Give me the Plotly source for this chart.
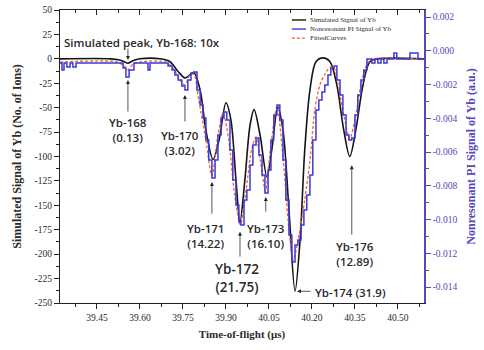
import plotly.graph_objects as go

# ---------------- data ----------------
# Simulated signal of Yb (left axis, No. of ions)
sim_t = [39.321, 39.500, 39.525, 39.545, 39.558, 39.575, 39.600, 39.670, 39.705, 39.733,
         39.757, 39.774, 39.788, 39.810, 39.830, 39.855, 39.876, 39.900, 39.917, 39.935,
         39.949, 39.966, 39.984, 39.998, 40.019, 40.043, 40.060, 40.081, 40.099, 40.120,
         40.141, 40.158, 40.175, 40.193, 40.214, 40.238, 40.263, 40.287, 40.311, 40.332,
         40.353, 40.378, 40.402, 40.430, 40.591]
sim_v = [0, 0, -1, -3, -4.5, -2, 0, 0, -3, -13,
         -19.5, -16.5, -14, -32, -73, -103, -83, -45, -62, -124,
         -167, -124, -68, -52, -78, -121, -93, -49, -73, -155,
         -238, -188, -93, -32, -3, 1, -3, -27, -73, -100,
         -73, -27, -3, 0, 0]

# Nonresonant PI signal of Yb (right axis, a.u.)
pi_t = [39.321, 39.328, 39.335, 39.345, 39.356, 39.366, 39.377, 39.541, 39.551, 39.562,
        39.579, 39.628, 39.635, 39.698, 39.712, 39.722, 39.733, 39.746, 39.757, 39.767,
        39.778, 39.788, 39.799, 39.810, 39.820, 39.830, 39.840, 39.851, 39.862, 39.872,
        39.883, 39.893, 39.903, 39.914, 39.924, 39.935, 39.945, 39.952, 39.963, 39.973,
        39.984, 39.994, 40.005, 40.015, 40.026, 40.036, 40.047, 40.057, 40.067, 40.078,
        40.088, 40.099, 40.109, 40.120, 40.130, 40.141, 40.151, 40.162, 40.172, 40.182,
        40.193, 40.203, 40.214, 40.224, 40.235, 40.245, 40.256, 40.266, 40.277, 40.287,
        40.298, 40.308, 40.319, 40.329, 40.339, 40.350, 40.360, 40.371, 40.381, 40.392,
        40.409, 40.420, 40.430, 40.441, 40.451, 40.462, 40.486, 40.496, 40.542, 40.570,
        40.591]
pi_v = [-0.00072, -0.00113, -0.00072, -0.00096, -0.00072, -0.00096, -0.00072, -0.00102, -0.00155, -0.00113,
        -0.00072, -0.00113, -0.00072, -0.00090, -0.00113, -0.00143, -0.00173, -0.00208, -0.00232, -0.00173,
        -0.00131, -0.00125, -0.00232, -0.00321, -0.00398, -0.00528, -0.00647, -0.00753, -0.00647, -0.00499,
        -0.00398, -0.00362, -0.00410, -0.00588, -0.00765, -0.00913, -0.01014, -0.01032, -0.00884, -0.00825,
        -0.00677, -0.00558, -0.00516, -0.00617, -0.00736, -0.00842, -0.00706, -0.00528, -0.00380, -0.00321,
        -0.00410, -0.00647, -0.00884, -0.01091, -0.01251, -0.01150, -0.01121, -0.01032, -0.00943, -0.00854,
        -0.00736, -0.00528, -0.00351, -0.00291, -0.00244, -0.00202, -0.00143, -0.00102, -0.00090, -0.00173,
        -0.00262, -0.00380, -0.00499, -0.00528, -0.00516, -0.00380, -0.00262, -0.00173, -0.00113, -0.00048,
        -0.00072, -0.00048, -0.00072, -0.00048, -0.00072, -0.00048, -0.00013, -0.00048, -0.00013, -0.00048,
        -0.00048]

# Fitted curves (right axis, a.u.)
fit_t = [39.321, 39.520, 39.545, 39.558, 39.575, 39.600, 39.690, 39.715, 39.740, 39.757,
         39.775, 39.788, 39.805, 39.830, 39.851, 39.872, 39.890, 39.910, 39.930, 39.950,
         39.970, 39.990, 40.005, 40.020, 40.038, 40.055, 40.078, 40.100, 40.120, 40.135,
         40.155, 40.175, 40.193, 40.210, 40.228, 40.245, 40.263, 40.277, 40.290, 40.310,
         40.332, 40.352, 40.372, 40.392, 40.410, 40.591]
fit_v = [-0.00066, -0.00066, -0.00090, -0.00113, -0.00080, -0.00066, -0.00066, -0.00102, -0.00173, -0.00202,
         -0.00140, -0.00140, -0.00290, -0.00530, -0.00740, -0.00500, -0.00370, -0.00530, -0.00850, -0.01030,
         -0.00830, -0.00580, -0.00510, -0.00650, -0.00830, -0.00580, -0.00330, -0.00650, -0.01060, -0.01240,
         -0.01090, -0.00880, -0.00650, -0.00350, -0.00200, -0.00140, -0.00096, -0.00100, -0.00190, -0.00370,
         -0.00520, -0.00390, -0.00190, -0.00080, -0.00050, -0.00050]

series_names = ["Simulated Signal of Yb", "Nonresonant PI Signal of Yb", "FittedCurves"]

x_tickvals = [39.45, 39.60, 39.75, 39.90, 40.05, 40.20, 40.35, 40.50]
x_ticktext = ["39.45", "39.60", "39.75", "39.90", "40.05", "40.20", "40.35", "40.50"]
yl_tickvals = [50, 25, 0, -25, -50, -75, -100, -125, -150, -175, -200, -225, -250]
yl_ticktext = ["50", "25", "0", "-25", "-50", "-75", "-100", "-125", "-150", "-175", "-200", "-225", "-250"]
yr_tickvals = [0.002, 0.000, -0.002, -0.004, -0.006, -0.008, -0.010, -0.012, -0.014]
yr_ticktext = ["0.002", "0.000", "-0.002", "-0.004", "-0.006", "-0.008", "-0.010", "-0.012", "-0.014"]

# peak labels
label_text = ["Yb-168<br>(0.13)", "Yb-170<br>(3.02)", "Yb-171<br>(14.22)", "Yb-172<br>(21.75)",
              "Yb-173<br>(16.10)", "Yb-176<br>(12.89)"]
label_x = [39.558, 39.740, 39.827, 39.938, 40.039, 40.350]
label_y = [-73, -86, -181, -224, -181, -200]
# arrows: head (x, y), tail y
arrow_hx = [39.558, 39.757, 39.851, 39.949, 40.039, 40.339]
arrow_hy = [-21.7, -37, -126, -177, -141.5, -109]
arrow_ty = [-55.5, -65.7, -160, -204, -158, -181.5]

PURPLE = "#5548b8"
BLUE = "#3a3ad8"
RED = "#f0603c"
DARK = "#2a2a2a"
SERIF = "Liberation Serif"
SANS = "Open Sans"

fig = go.Figure()
fig.add_trace(go.Scatter(x=fit_t, y=fit_v, yaxis="y2", mode="lines", name=series_names[2],
                         line=dict(color=RED, width=1.3, dash="3px,2px", shape="spline", smoothing=0.8),
                         showlegend=False))
fig.add_trace(go.Scatter(x=pi_t, y=pi_v, yaxis="y2", mode="lines", name=series_names[1],
                         line=dict(color=BLUE, width=1.5, shape="hv"), showlegend=False))
fig.add_trace(go.Scatter(x=sim_t, y=sim_v, mode="lines", name=series_names[0],
                         line=dict(color="#151515", width=1.6, shape="spline", smoothing=0.9),
                         showlegend=False))
# transparent copy on the top axis so its inward ticks are drawn
fig.add_trace(go.Scatter(x=sim_t, y=sim_v, xaxis="x2", mode="lines",
                         line=dict(color="rgba(0,0,0,0)", width=0), showlegend=False, hoverinfo="skip"))

tickfont = dict(family=SERIF, size=9.5, color=DARK)

fig.update_layout(
    width=484, height=350,
    margin=dict(l=60, r=60, t=10, b=47, autoexpand=False),
    paper_bgcolor="white", plot_bgcolor="white",
    showlegend=False,
    xaxis=dict(range=[39.321, 40.591], tickmode="array", tickvals=x_tickvals, ticktext=x_ticktext,
               ticks="outside", ticklen=5, tickwidth=1, tickcolor="#222", automargin=False,
               minor=dict(dtick=0.075, tick0=39.45, ticks="outside", ticklen=3, tickcolor="#222"),
               showline=True, linecolor="#222", linewidth=1.3, mirror=True,
               showgrid=False, zeroline=False, tickfont=tickfont,
               title=dict(text="<b>Time-of-flight (μs)</b>", font=dict(family=SERIF, size=11, color=DARK),
                          standoff=8)),
    xaxis2=dict(range=[39.321, 40.591], overlaying="x", side="top", matches="x", automargin=False,
                tickmode="array", tickvals=x_tickvals, showticklabels=False,
                ticks="inside", ticklen=5, tickcolor="#222",
                minor=dict(dtick=0.075, tick0=39.45, ticks="inside", ticklen=3, tickcolor="#222"),
                showgrid=False, zeroline=False, showline=False),
    yaxis=dict(range=[-250, 50], tickmode="array", tickvals=yl_tickvals, ticktext=yl_ticktext,
               ticks="outside", ticklen=5, tickcolor="#222", automargin=False,
               minor=dict(dtick=12.5, tick0=0, ticks="outside", ticklen=3, tickcolor="#222"),
               showline=True, linecolor="#222", linewidth=1.3,
               showgrid=False, zeroline=False, tickfont=tickfont,
               title=dict(text="<b>Simulated Signal of Yb (No. of Ions)</b>",
                          font=dict(family=SERIF, size=12, color=DARK), standoff=10)),
    yaxis2=dict(range=[-0.01494, 0.00242], overlaying="y", side="right", automargin=False,
                tickmode="array", tickvals=yr_tickvals, ticktext=yr_ticktext,
                ticks="outside", ticklen=5, tickcolor=PURPLE,
                minor=dict(dtick=0.001, tick0=0, ticks="outside", ticklen=3, tickcolor=PURPLE),
                showline=True, linecolor=PURPLE, linewidth=1.5,
                showgrid=False, zeroline=False,
                tickfont=dict(family=SERIF, size=9.5, color=PURPLE),
                title=dict(text="<b>Nonresonant PI Signal of Yb (a.u.)</b>",
                           font=dict(family=SERIF, size=12, color=PURPLE), standoff=10)),
)

annfont = dict(family=SANS, size=11.5, color=DARK, weight=600)
anns = []
anns.append(dict(x=39.328, y=17.2, xref="x", yref="y", text="Simulated peak, Yb-168: 10x",
                 showarrow=False, xanchor="left", yanchor="middle", font=annfont))
anns.append(dict(x=39.558, y=-1.2, ax=39.558, ay=12, xref="x", yref="y", axref="x", ayref="y",
                 text="", showarrow=True, arrowhead=2, arrowsize=1, arrowwidth=0.8, arrowcolor=DARK))
for i, t in enumerate(label_text):
    f = dict(annfont)
    if "172" in t:
        f["size"] = 13.5
    anns.append(dict(x=label_x[i], y=label_y[i], xref="x", yref="y", text=t, showarrow=False,
                     align="center", font=f))
    anns.append(dict(x=arrow_hx[i], y=arrow_hy[i], ax=arrow_hx[i], ay=arrow_ty[i],
                     xref="x", yref="y", axref="x", ayref="y", text="", showarrow=True,
                     arrowhead=2, arrowsize=1, arrowwidth=0.8, arrowcolor=DARK))
anns.append(dict(x=40.203, y=-239, xref="x", yref="y", text="Yb-174 (31.9)", showarrow=False,
                 xanchor="left", font=annfont))
anns.append(dict(x=40.148, y=-238, ax=40.200, ay=-238, xref="x", yref="y", axref="x", ayref="y",
                 text="", showarrow=True, arrowhead=2, arrowsize=1, arrowwidth=0.8, arrowcolor=DARK))

# key in the upper right
leg_y = [0.966, 0.935, 0.904]
leg_col = ["#151515", BLUE, RED]
leg_dash = ["solid", "solid", "3px,2px"]
shapes = []
for i, nm in enumerate(series_names):
    shapes.append(dict(type="line", xref="paper", yref="paper", x0=0.637, x1=0.676,
                       y0=leg_y[i], y1=leg_y[i], line=dict(color=leg_col[i], width=1.4, dash=leg_dash[i])))
    anns.append(dict(x=0.681, y=leg_y[i], xref="paper", yref="paper", text=nm, showarrow=False,
                     xanchor="left", yanchor="middle", font=dict(family=SERIF, size=7, color=DARK)))

fig.update_layout(annotations=anns, shapes=shapes)
fig.write_html("out.html", config={"displayModeBar": False},
               post_script="document.body.style.margin='0';document.body.style.overflow='hidden';")
